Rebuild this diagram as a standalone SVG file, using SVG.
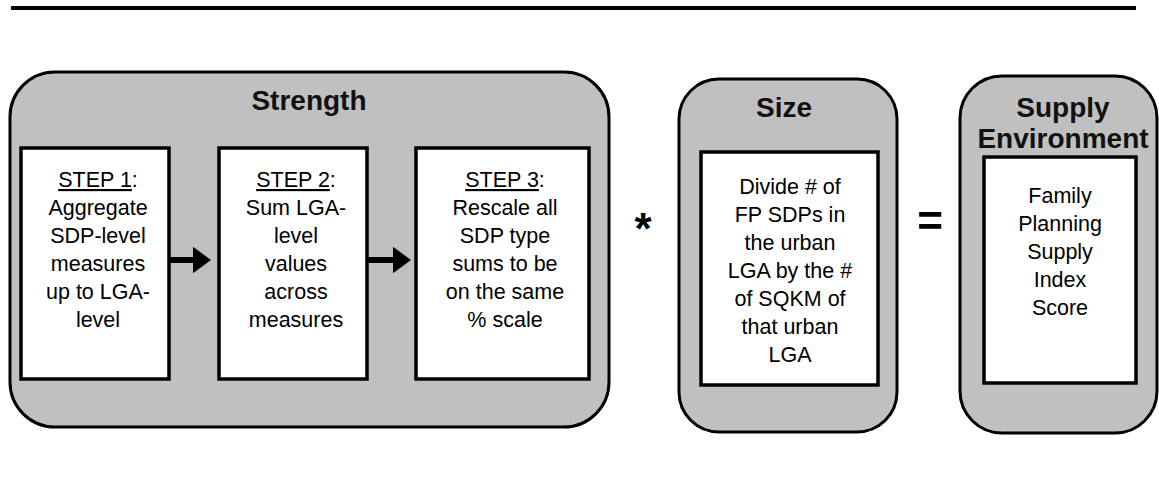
<svg xmlns="http://www.w3.org/2000/svg" width="1159" height="500" viewBox="0 0 1159 500">
<style>
.outer{fill:#c0c0c0;stroke:#000;stroke-width:3}
.inner{fill:#fff;stroke:#000;stroke-width:3.5}
.title{font-family:"Liberation Sans",Arial,sans-serif;font-weight:bold;font-size:28px;fill:#111;text-anchor:middle}
.body{font-family:"Liberation Sans",Arial,sans-serif;font-size:21.5px;fill:#000;text-anchor:middle}
.op{font-family:"Liberation Sans",Arial,sans-serif;font-weight:bold;font-size:44px;fill:#000;text-anchor:middle}
</style>
<defs>
<marker id="ah" markerWidth="4" markerHeight="6" refX="0" refY="3" orient="auto" markerUnits="strokeWidth"><path d="M0,0.8 L3,3 L0,5.2 z" fill="#000"/></marker>
</defs>
<rect x="0" y="0" width="1159" height="500" fill="#fff"/>
<line x1="11" y1="8" x2="1136" y2="8" stroke="#000" stroke-width="4"/>
<g id="strength">
<rect class="outer" x="10" y="72" width="599" height="355" rx="45" ry="45"/>
<text class="title" x="309" y="110">Strength</text>
</g>
<g id="step1">
<rect class="inner" x="21" y="148" width="148" height="231"/>
<text class="body"><tspan x="98" y="187"><tspan text-decoration="underline">STEP 1</tspan>:</tspan><tspan x="98" y="215">Aggregate</tspan><tspan x="98" y="243">SDP-level</tspan><tspan x="98" y="271">measures</tspan><tspan x="98" y="299">up to LGA-</tspan><tspan x="98" y="327">level</tspan></text>
</g>
<g id="step2">
<rect class="inner" x="219" y="148" width="148" height="231"/>
<text class="body"><tspan x="296" y="187"><tspan text-decoration="underline">STEP 2</tspan>:</tspan><tspan x="296" y="215">Sum LGA-</tspan><tspan x="296" y="243">level</tspan><tspan x="296" y="271">values</tspan><tspan x="296" y="299">across</tspan><tspan x="296" y="327">measures</tspan></text>
</g>
<g id="step3">
<rect class="inner" x="416" y="148" width="173" height="231"/>
<text class="body"><tspan x="505" y="187"><tspan text-decoration="underline">STEP 3</tspan>:</tspan><tspan x="505" y="215">Rescale all</tspan><tspan x="505" y="243">SDP type</tspan><tspan x="505" y="271">sums to be</tspan><tspan x="505" y="299">on the same</tspan><tspan x="505" y="327">% scale</tspan></text>
</g>
<g id="connectors">
<line x1="169" y1="260" x2="193" y2="260" stroke="#000" stroke-width="6" marker-end="url(#ah)"/>
<line x1="367" y1="260" x2="393" y2="260" stroke="#000" stroke-width="6" marker-end="url(#ah)"/>
</g>
<g id="times"><text class="op" x="643" y="244">*</text></g>
<g id="size">
<rect class="outer" x="679" y="79" width="218" height="353" rx="40" ry="40"/>
<text class="title" x="784" y="117">Size</text>
<rect class="inner" x="701" y="152" width="177" height="233"/>
<text class="body"><tspan x="790" y="194">Divide # of</tspan><tspan x="790" y="222">FP SDPs in</tspan><tspan x="790" y="250">the urban</tspan><tspan x="790" y="278">LGA by the #</tspan><tspan x="790" y="306">of SQKM of</tspan><tspan x="790" y="334">that urban</tspan><tspan x="790" y="362">LGA</tspan></text>
</g>
<g id="equals"><text class="op" x="930" y="236">=</text></g>
<g id="supply">
<rect class="outer" x="960" y="76" width="197" height="357" rx="42" ry="42"/>
<text class="title" x="1063" y="117">Supply</text>
<text class="title" x="1063" y="148">Environment</text>
<rect class="inner" x="984" y="157" width="152" height="226"/>
<text class="body"><tspan x="1060" y="203">Family</tspan><tspan x="1060" y="231">Planning</tspan><tspan x="1060" y="259">Supply</tspan><tspan x="1060" y="287">Index</tspan><tspan x="1060" y="315">Score</tspan></text>
</g>
</svg>
